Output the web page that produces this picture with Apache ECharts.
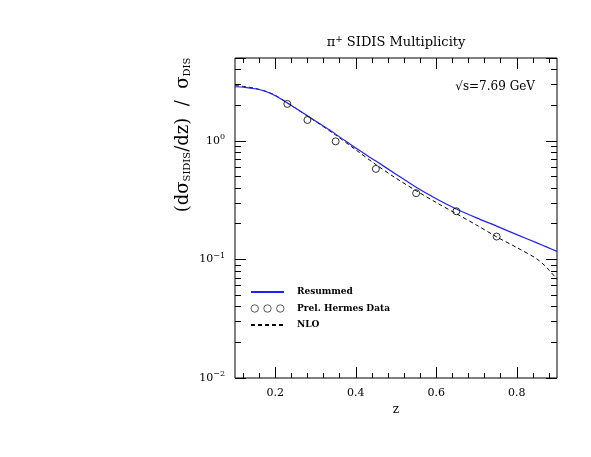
<!DOCTYPE html>
<html>
<head>
<meta charset="utf-8">
<script src="https://cdn.jsdelivr.net/npm/echarts@6/dist/echarts.min.js"></script>
<style>
  html, body { margin: 0; padding: 0; background: #fff; }
  #chart { width: 591px; height: 457px; }
</style>
</head>
<body>
<div id="chart"></div>
<script>
// z grid for the two theory curves
const zCurve = [0.1, 0.125, 0.15, 0.175, 0.2, 0.225, 0.25, 0.3, 0.35, 0.4, 0.45, 0.5, 0.55, 0.6, 0.65, 0.7, 0.75, 0.8, 0.85, 0.875, 0.9];
const resummed = [2.86, 2.83, 2.75, 2.62, 2.40, 2.14, 1.89, 1.47, 1.14, 0.869, 0.675, 0.524, 0.406, 0.325, 0.266, 0.224, 0.191, 0.162, 0.138, 0.127, 0.117];
const nlo = [2.93, 2.87, 2.77, 2.63, 2.42, 2.15, 1.89, 1.46, 1.12, 0.841, 0.631, 0.484, 0.38, 0.302, 0.243, 0.195, 0.155, 0.126, 0.101, 0.085, 0.068];

// preliminary Hermes points
const hermesZ = [0.23, 0.28, 0.35, 0.45, 0.55, 0.65, 0.75];
const hermesVal = [2.05, 1.5, 0.99, 0.58, 0.362, 0.255, 0.156];

// ticks
const xMajor = [0.2, 0.4, 0.6, 0.8];
const xMinor = [0.12, 0.16, 0.24, 0.28, 0.32, 0.36, 0.44, 0.48, 0.52, 0.56, 0.64, 0.68, 0.72, 0.76, 0.84, 0.88];
const yMinor = [0.02, 0.03, 0.04, 0.05, 0.06, 0.07, 0.08, 0.09,
                0.2, 0.3, 0.4, 0.5, 0.6, 0.7, 0.8, 0.9, 2, 3, 4];

const chart = echarts.init(document.getElementById('chart'));
const FONT = 'DejaVu Serif';
const GRID = { left: 235, right: 34, top: 58, bottom: 79 };

function zip(a, b) { return a.map((v, i) => [v, b[i]]); }

function supNum(v) {
  const p = Math.round(Math.log10(v));
  if (Math.abs(Math.log10(v) - p) > 1e-6) return '';
  return '10{sup|' + (p === 0 ? '0' : '\u2212' + Math.abs(p)) + '}';
}

// one axis pair per grid, all grids share the same rectangle
function xAx(g, pos, ticks, len, labels) {
  return {
    gridIndex: g, type: 'value', position: pos, min: 0.1, max: 0.9,
    axisLine: { show: false, onZero: false },
    axisTick: { show: true, inside: true, length: len, customValues: ticks, lineStyle: { color: '#000', width: 1 } },
    axisLabel: labels ? {
      show: true, customValues: xMajor, margin: 10, color: '#000',
      fontFamily: FONT, fontSize: 11, formatter: v => v.toFixed(1)
    } : { show: false },
    splitLine: { show: false }
  };
}

function yAx(g, pos, minor, len, labels) {
  const tick = { show: true, inside: true, length: len, lineStyle: { color: '#000', width: 1 } };
  if (minor) tick.customValues = yMinor;
  return {
    gridIndex: g, type: 'log', position: pos, min: 0.01, max: 5, logBase: 10,
    axisLine: { show: false, onZero: false },
    axisTick: tick,
    axisLabel: labels ? {
      show: true, margin: 10, color: '#000',
      fontFamily: FONT, fontSize: 11, formatter: supNum,
      rich: { sup: { fontFamily: FONT, fontSize: 8, verticalAlign: 'top', padding: [0, 0, 8, 0], color: '#000' } }
    } : { show: false },
    splitLine: { show: false }
  };
}

const option = {
  backgroundColor: '#fff',
  animation: false,
  grid: [
    Object.assign({ show: true, borderColor: '#000', borderWidth: 1, backgroundColor: 'transparent' }, GRID),
    Object.assign({}, GRID), Object.assign({}, GRID), Object.assign({}, GRID)
  ],
  xAxis: [
    Object.assign(xAx(0, 'bottom', xMajor, 11, true), {
      name: 'z', nameLocation: 'middle', nameGap: 22,
      nameTextStyle: { fontFamily: FONT, fontSize: 12, color: '#000' }
    }),
    xAx(1, 'top', xMajor, 11, false),
    xAx(2, 'bottom', xMinor, 5, false),
    xAx(3, 'top', xMinor, 5, false)
  ],
  yAxis: [
    yAx(0, 'left', false, 11, true),
    yAx(1, 'right', false, 11, false),
    yAx(2, 'left', true, 6, false),
    yAx(3, 'right', true, 6, false)
  ],
  legend: {
    orient: 'vertical', left: 250, top: 287, padding: 0,
    itemWidth: 33, itemHeight: 10, itemGap: 6.5,
    textStyle: { fontFamily: FONT, fontSize: 9, lineHeight: 10, color: '#000', fontWeight: 'bold', padding: [0, 0, 0, 8] },
    data: [
      { name: 'Resummed', itemStyle: { opacity: 0 } },
      { name: 'Prel. Hermes Data', itemStyle: { borderWidth: 0.8 },
        icon: 'path://M1,5a3.5,3.5 0 1,0 7,0a3.5,3.5 0 1,0 -7,0M13,5a3.5,3.5 0 1,0 7,0a3.5,3.5 0 1,0 -7,0M25,5a3.5,3.5 0 1,0 7,0a3.5,3.5 0 1,0 -7,0' },
      { name: 'NLO', itemStyle: { opacity: 0 } }
    ]
  },
  graphic: [
    {
      type: 'text', x: 396, y: 43,
      style: {
        text: '\u03c0{sup|+} SIDIS Multiplicity',
        fontFamily: FONT, fontSize: 13, fill: '#000', align: 'center', verticalAlign: 'middle',
        rich: { sup: { fontFamily: FONT, fontSize: 9, verticalAlign: 'top', padding: [0, 0, 7, 0] } }
      }
    },
    {
      type: 'text', x: 535, y: 87,
      style: { text: '\u221as=7.69 GeV', fontFamily: FONT, fontSize: 12, fill: '#000', align: 'right', verticalAlign: 'middle' }
    },
    {
      type: 'text', x: 183, y: 135, rotation: Math.PI / 2,
      style: {
        text: '(d\u03c3{sub|SIDIS}/dz)  /  \u03c3{sub|DIS}',
        fontFamily: FONT, fontSize: 18, fill: '#000', align: 'center', verticalAlign: 'middle',
        rich: { sub: { fontFamily: FONT, fontSize: 10, verticalAlign: 'bottom', padding: [8, 0, 0, 0] } }
      }
    }
  ],
  series: [
    {
      name: 'Resummed', type: 'line', data: zip(zCurve, resummed),
      smooth: 0.3, symbol: 'none', xAxisIndex: 0, yAxisIndex: 0,
      lineStyle: { color: '#2020ff', width: 1.2 }, itemStyle: { color: '#2020ff' }, z: 3
    },
    {
      name: 'Prel. Hermes Data', type: 'scatter', data: zip(hermesZ, hermesVal),
      symbol: 'circle', symbolSize: 7, xAxisIndex: 0, yAxisIndex: 0,
      itemStyle: { color: 'transparent', borderColor: '#000', borderWidth: 1 }, z: 4
    },
    {
      name: 'NLO', type: 'line', data: zip(zCurve, nlo),
      smooth: 0.3, symbol: 'none', xAxisIndex: 0, yAxisIndex: 0,
      lineStyle: { color: '#000', width: 1, type: [4, 3] }, itemStyle: { color: '#000' }, z: 2
    }
  ]
};

chart.setOption(option);
window.addEventListener('resize', () => chart.resize());
</script>
</body>
</html>
